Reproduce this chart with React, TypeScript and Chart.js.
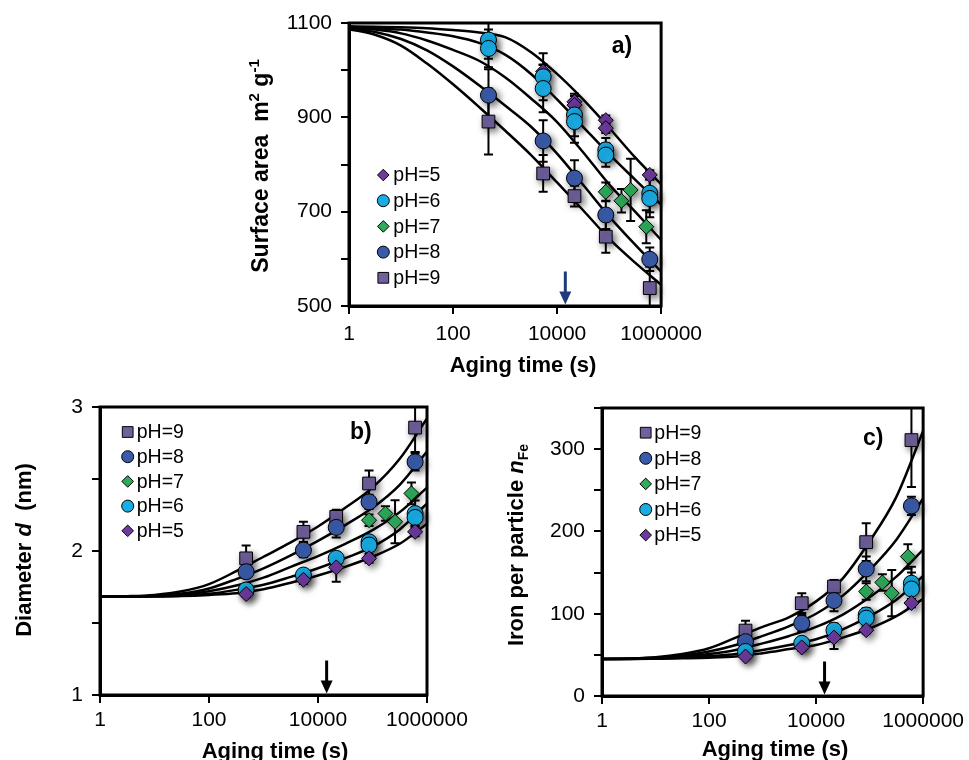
import React, { useEffect, useRef } from "react";
import { Chart, registerables } from "chart.js";
Chart.register(...registerables);

const FONT = "'Liberation Sans', Arial, Helvetica, sans-serif";

// ---------- shared axis values ----------
const curveTimes = [1, 3.162, 10, 31.62, 100, 316.2, 1000, 3162, 10000, 31623, 100000, 316228, 1000000];
const xTickValues = [1, 100, 10000, 1000000];
const arrowTime = 14400;
const mainTimes = [480, 5400, 21600, 86400, 604800];
const ph7Times = [86400, 172800, 259200, 518400];
const dupTimes = [480, 5400, 21600, 86400, 86400, 604800, 604800];

// ---------- panel a: surface area ----------
const aPH5Times = [5400, 21600, 21600, 86400, 86400, 604800];
const aPH5 = [997, 933, 926, 894, 877, 778];
const aPH5Err = [15, 12, 12, 10, 10, 10];
const aPH6Times = [480, 480, 5400, 5400, 21600, 21600, 86400, 86400, 604800, 604800];
const aPH6 = [1064, 1046, 986, 961, 905, 891, 831, 820, 739, 728];
const aPH6Err = [40, 40, 50, 50, 45, 45, 25, 25, 40, 40];
const aPH7 = [742, 723, 746, 668];
const aPH7Err = [20, 25, 66, 35];
const aPH8 = [947, 850, 771, 693, 599];
const aPH8Err = [55, 44, 38, 30, 25];
const aPH9 = [891, 781, 733, 647, 538];
const aPH9Err = [70, 39, 22, 34, 45];
const aFit5 = [1093, 1092, 1091, 1089, 1085, 1080, 1070, 1038, 992, 938, 878, 815, 758];
const aFit6 = [1091, 1089, 1086, 1080, 1072, 1058, 1033, 992, 938, 880, 822, 768, 715];
const aFit7 = [1090, 1086, 1078, 1063, 1043, 1020, 985, 940, 890, 826, 758, 700, 640];
const aFit8 = [1088, 1081, 1066, 1042, 1008, 968, 925, 880, 823, 757, 690, 630, 573];
const aFit9 = [1087, 1075, 1052, 1014, 970, 922, 872, 820, 762, 703, 643, 592, 545];

// ---------- panel b: diameter ----------
const bPH9 = [1.949, 2.133, 2.237, 2.469, 2.857];
const bPH9Err = [0.09, 0.07, 0.05, 0.09, 0.17];
const bPH8 = [1.856, 2.006, 2.164, 2.341, 2.619];
const bPH8Err = [0.04, 0.05, 0.07, 0.05, 0.06];
const bPH7 = [2.214, 2.26, 2.203, 2.4];
const bPH7Err = [0.04, 0.05, 0.15, 0.075];
const bPH6 = [1.729, 1.833, 1.949, 2.064, 2.041, 2.26, 2.233];
const bPH6Err = [0.03, 0.03, 0.04, 0.03, 0.03, 0.09, 0.06];
const bPH5 = [1.701, 1.8, 1.886, 1.949, 2.133];
const bPH5Err = [0.02, 0.03, 0.1, 0.03, 0.03];
const bFit9 = [1.683, 1.686, 1.695, 1.72, 1.77, 1.86, 1.96, 2.06, 2.17, 2.3, 2.44, 2.64, 2.92];
const bFit8 = [1.683, 1.685, 1.69, 1.705, 1.74, 1.805, 1.88, 1.97, 2.07, 2.18, 2.3, 2.46, 2.69];
const bFit7 = [1.683, 1.684, 1.687, 1.697, 1.72, 1.76, 1.815, 1.89, 1.965, 2.05, 2.145, 2.27, 2.44];
const bFit6 = [1.683, 1.683, 1.685, 1.69, 1.703, 1.73, 1.765, 1.82, 1.88, 1.95, 2.03, 2.15, 2.33];
const bFit5 = [1.683, 1.683, 1.684, 1.687, 1.695, 1.707, 1.735, 1.78, 1.83, 1.89, 1.96, 2.05, 2.19];

// ---------- panel c: iron per particle ----------
const cPH9 = [79.5, 112.8, 133, 187, 311];
const cPH9Err = [12, 12, 8, 23, 57];
const cPH8 = [66, 88.4, 116, 154.5, 231];
const cPH8Err = [6, 10, 13, 15, 11];
const cPH7 = [127, 138, 125, 169.5];
const cPH7Err = [10, 10, 28, 15];
const cPH6 = [54, 64, 80, 98.5, 94.5, 137, 130];
const cPH6Err = [4, 4, 8, 8, 8, 20, 20];
const cPH5 = [48, 59, 71, 80, 113];
const cPH5Err = [3, 4, 14, 4, 5];
const cFit9 = [45, 45.5, 47, 51, 58, 71, 84, 96, 115, 143, 188, 242, 322];
const cFit8 = [45, 45.3, 46.5, 49, 54, 62, 73, 85, 100, 122, 153, 190, 240];
const cFit7 = [45, 45.2, 46, 47.5, 51, 56, 64, 73, 84, 99, 120, 145, 178];
const cFit6 = [45, 45.1, 45.5, 46.5, 48.5, 51, 56, 62, 69, 81, 97, 117, 146];
const cFit5 = [45, 45, 45.3, 45.8, 46.5, 48, 52, 57, 62, 71, 82, 97, 118];

// ---------- styles ----------
const C5 = "#6E3A9E";
const C6 = "#1AADE5";
const C7 = "#2EAB5B";
const C8 = "#3A5BAA";
const C9 = "#71609E";
const RAD: Record<string, number> = { circle: 8, rectRot: 7.5, rect: 9 };
const LEG_RAD: Record<string, number> = { circle: 6, rectRot: 5.8, rect: 7.6 };

type Style = "circle" | "rectRot" | "rect";
type Series = { label: string; times: number[]; values: number[]; errors: number[]; style: Style; color: string; order: number };
type Seg = { t: string; size: number; italic?: boolean; dy?: number };

function drawMarker(ctx: CanvasRenderingContext2D, style: Style, x: number, y: number, r: number, color: string) {
  ctx.beginPath();
  if (style === "circle") ctx.arc(x, y, r, 0, Math.PI * 2);
  else if (style === "rectRot") {
    ctx.moveTo(x - r, y); ctx.lineTo(x, y - r); ctx.lineTo(x + r, y); ctx.lineTo(x, y + r); ctx.closePath();
  } else {
    const s = r * Math.SQRT1_2;
    ctx.rect(x - s, y - s, 2 * s, 2 * s);
  }
  ctx.fillStyle = color;
  ctx.fill();
  ctx.lineWidth = 1;
  ctx.strokeStyle = "#000";
  ctx.stroke();
}

function drawRich(ctx: CanvasRenderingContext2D, segs: Seg[], x: number, y: number, rotate: boolean) {
  ctx.save();
  ctx.translate(x, y);
  if (rotate) ctx.rotate(-Math.PI / 2);
  ctx.textBaseline = "alphabetic";
  ctx.textAlign = "left";
  ctx.fillStyle = "#000";
  const fontOf = (s: Seg) => `${s.italic ? "italic " : ""}bold ${s.size}px ${FONT}`;
  let total = 0;
  segs.forEach((s) => { ctx.font = fontOf(s); total += ctx.measureText(s.t).width; });
  let cx = -total / 2;
  segs.forEach((s) => {
    ctx.font = fontOf(s);
    ctx.fillText(s.t, cx, s.dy || 0);
    cx += ctx.measureText(s.t).width;
  });
  ctx.restore();
}

const errorBarPlugin = {
  id: "errorBars",
  beforeDatasetsDraw(chart: any) {
    const { ctx, chartArea, scales } = chart;
    ctx.save();
    ctx.beginPath();
    ctx.rect(chartArea.left, chartArea.top, chartArea.right - chartArea.left, chartArea.bottom - chartArea.top);
    ctx.clip();
    ctx.strokeStyle = "#000";
    ctx.lineWidth = 2;
    chart.data.datasets.forEach((ds: any) => {
      if (!ds.errors) return;
      ds.data.forEach((p: any, i: number) => {
        const e = ds.errors[i];
        if (!e) return;
        const x = scales.x.getPixelForValue(p.x);
        const y1 = scales.y.getPixelForValue(p.y - e);
        const y2 = scales.y.getPixelForValue(p.y + e);
        ctx.beginPath();
        ctx.moveTo(x, y1); ctx.lineTo(x, y2);
        ctx.moveTo(x - 4.5, y1); ctx.lineTo(x + 4.5, y1);
        ctx.moveTo(x - 4.5, y2); ctx.lineTo(x + 4.5, y2);
        ctx.stroke();
      });
    });
    ctx.restore();
  },
};

const shadowPlugin = {
  id: "markerShadow",
  beforeDatasetDraw(chart: any, args: any) {
    if (chart.data.datasets[args.index].isMarker) {
      const ctx = chart.ctx;
      ctx.save();
      ctx.shadowColor = "rgba(0,0,0,0.55)";
      ctx.shadowBlur = 7;
      ctx.shadowOffsetX = 3;
      ctx.shadowOffsetY = 3;
    }
  },
  afterDatasetDraw(chart: any, args: any) {
    if (chart.data.datasets[args.index].isMarker) chart.ctx.restore();
  },
};

type PanelCfg = {
  series: Series[];
  curves: number[][];
  yMin: number; yMax: number; yStep: number;
  yLabel: (v: number) => boolean;
  yWidth: number; xHeight: number; padTop: number; padRight: number;
  xTickPad: number;
  legend: { mx: number; tx: number; y0: number; sp: number; order: Series[] };
  tag: { t: string; x: number; y: number };
  arrowColor: string;
  yTitle: Seg[]; yTitleX: number; yTitleY: number;
  xTitleX: number; xTitleY: number;
};

function makeChart(canvas: HTMLCanvasElement, cfg: PanelCfg) {
  const datasets: any[] = [];
  cfg.series.forEach((s) => {
    datasets.push({
      type: "scatter",
      label: s.label,
      data: s.times.map((t, i) => ({ x: t, y: s.values[i] })),
      errors: s.errors,
      isMarker: true,
      pointStyle: s.style,
      pointRadius: RAD[s.style],
      pointBackgroundColor: s.color,
      pointBorderColor: "#000",
      pointBorderWidth: 1,
      showLine: false,
      order: s.order,
      clip: false,
    });
  });
  cfg.curves.forEach((c, k) => {
    datasets.push({
      type: "line",
      label: "fit" + k,
      data: curveTimes.map((t, i) => ({ x: t, y: c[i] })),
      borderColor: "#000",
      borderWidth: 2.5,
      pointRadius: 0,
      cubicInterpolationMode: "monotone",
      fill: false,
      order: 30,
    });
  });

  const overlay = {
    id: "overlay",
    afterDraw(chart: any) {
      const { ctx, chartArea, scales } = chart;
      ctx.save();
      ctx.strokeStyle = "#000";
      ctx.lineWidth = 3;
      ctx.strokeRect(chartArea.left, chartArea.top, chartArea.right - chartArea.left, chartArea.bottom - chartArea.top);
      // arrow
      const ax = scales.x.getPixelForValue(arrowTime);
      const bot = chartArea.bottom - 1.5;
      ctx.strokeStyle = cfg.arrowColor;
      ctx.fillStyle = cfg.arrowColor;
      ctx.lineWidth = 3;
      ctx.beginPath();
      ctx.moveTo(ax, bot - 33);
      ctx.lineTo(ax, bot - 10);
      ctx.stroke();
      ctx.beginPath();
      ctx.moveTo(ax - 6, bot - 13);
      ctx.lineTo(ax + 6, bot - 13);
      ctx.lineTo(ax, bot);
      ctx.closePath();
      ctx.fill();
      // legend
      const L = cfg.legend;
      L.order.forEach((s, i) => {
        const y = L.y0 + i * L.sp;
        drawMarker(ctx, s.style, L.mx, y, LEG_RAD[s.style], s.color);
        ctx.fillStyle = "#000";
        ctx.font = `19.5px ${FONT}`;
        ctx.textBaseline = "middle";
        ctx.textAlign = "left";
        ctx.fillText(s.label, L.tx, y + 1);
      });
      // tag
      ctx.font = `bold 23px ${FONT}`;
      ctx.fillStyle = "#000";
      ctx.textBaseline = "middle";
      ctx.fillText(cfg.tag.t, cfg.tag.x, cfg.tag.y);
      ctx.restore();
      drawRich(ctx, cfg.yTitle, cfg.yTitleX, cfg.yTitleY, true);
      drawRich(ctx, [{ t: "Aging time (s)", size: 22 }], cfg.xTitleX, cfg.xTitleY, false);
    },
  };

  return new Chart(canvas, {
    type: "scatter",
    data: { datasets },
    options: {
      responsive: false,
      animation: false,
      events: [],
      layout: { padding: { top: cfg.padTop, right: cfg.padRight, left: 0, bottom: 0 } },
      plugins: { legend: { display: false }, tooltip: { enabled: false }, title: { display: false } },
      scales: {
        x: {
          type: "logarithmic",
          min: 1,
          max: 1000000,
          afterBuildTicks: (s: any) => { s.ticks = xTickValues.map((v) => ({ value: v })); },
          afterFit: (s: any) => { s.height = cfg.xHeight; },
          ticks: {
            callback: (v: any) => String(v),
            font: { family: FONT, size: 21 },
            color: "#000",
            padding: cfg.xTickPad,
            maxRotation: 0,
            autoSkip: false,
          },
          grid: { display: true, drawOnChartArea: false, drawTicks: true, tickLength: 8, color: "#000", lineWidth: 2 },
          border: { display: true, color: "#000", width: 3 },
        },
        y: {
          type: "linear",
          min: cfg.yMin,
          max: cfg.yMax,
          afterFit: (s: any) => { s.width = cfg.yWidth; },
          ticks: {
            stepSize: cfg.yStep,
            callback: (v: any) => (cfg.yLabel(Number(v)) ? String(v) : ""),
            font: { family: FONT, size: 21 },
            color: "#000",
            padding: 9,
            autoSkip: false,
          },
          grid: { display: true, drawOnChartArea: false, drawTicks: true, tickLength: 8, color: "#000", lineWidth: 2 },
          border: { display: true, color: "#000", width: 3 },
        },
      },
    } as any,
    plugins: [errorBarPlugin, shadowPlugin, overlay],
  } as any);
}

export default function App() {
  const refA = useRef<HTMLCanvasElement>(null);
  const refB = useRef<HTMLCanvasElement>(null);
  const refC = useRef<HTMLCanvasElement>(null);

  useEffect(() => {
    // panel a: pH9 on top
    const a5: Series = { label: "pH=5", times: aPH5Times, values: aPH5, errors: aPH5Err, style: "rectRot", color: C5, order: 15 };
    const a6: Series = { label: "pH=6", times: aPH6Times, values: aPH6, errors: aPH6Err, style: "circle", color: C6, order: 14 };
    const a7: Series = { label: "pH=7", times: ph7Times, values: aPH7, errors: aPH7Err, style: "rectRot", color: C7, order: 13 };
    const a8: Series = { label: "pH=8", times: mainTimes, values: aPH8, errors: aPH8Err, style: "circle", color: C8, order: 12 };
    const a9: Series = { label: "pH=9", times: mainTimes, values: aPH9, errors: aPH9Err, style: "rect", color: C9, order: 11 };
    const chartA = makeChart(refA.current!, {
      series: [a5, a6, a7, a8, a9],
      curves: [aFit5, aFit6, aFit7, aFit8, aFit9],
      yMin: 500, yMax: 1100, yStep: 100,
      yLabel: (v) => (v - 500) % 200 === 0,
      yWidth: 119, xHeight: 79, padTop: 23, padRight: 48, xTickPad: 8,
      legend: { mx: 153.3, tx: 163.3, y0: 175, sp: 25.7, order: [a5, a6, a7, a8, a9] },
      tag: { t: "a)", x: 381.7, y: 46.7 },
      arrowColor: "#1F3A78",
      yTitle: [
        { t: "Surface area  m", size: 23 },
        { t: "2", size: 15, dy: -9 },
        { t: " g", size: 23 },
        { t: "-1", size: 15, dy: -9 },
      ],
      yTitleX: 38, yTitleY: 166,
      xTitleX: 293, xTitleY: 372,
    });

    // panel b: pH5 on top
    const b9: Series = { label: "pH=9", times: mainTimes, values: bPH9, errors: bPH9Err, style: "rect", color: C9, order: 15 };
    const b8: Series = { label: "pH=8", times: mainTimes, values: bPH8, errors: bPH8Err, style: "circle", color: C8, order: 14 };
    const b7: Series = { label: "pH=7", times: ph7Times, values: bPH7, errors: bPH7Err, style: "rectRot", color: C7, order: 13 };
    const b6: Series = { label: "pH=6", times: dupTimes, values: bPH6, errors: bPH6Err, style: "circle", color: C6, order: 12 };
    const b5: Series = { label: "pH=5", times: mainTimes, values: bPH5, errors: bPH5Err, style: "rectRot", color: C5, order: 11 };
    const chartB = makeChart(refB.current!, {
      series: [b9, b8, b7, b6, b5],
      curves: [bFit9, bFit8, bFit7, bFit6, bFit5],
      yMin: 1, yMax: 3, yStep: 0.5,
      yLabel: (v) => Number.isInteger(v),
      yWidth: 100, xHeight: 65, padTop: 27, padRight: 53, xTickPad: 5,
      legend: { mx: 127.7, tx: 136.7, y0: 52, sp: 24.7, order: [b9, b8, b7, b6, b5] },
      tag: { t: "b)", x: 350, y: 53 },
      arrowColor: "#000",
      yTitle: [
        { t: "Diameter ", size: 22 },
        { t: "d", size: 22, italic: true },
        { t: "  (nm)", size: 22 },
      ],
      yTitleX: 31, yTitleY: 170,
      xTitleX: 275, xTitleY: 377.5,
    });

    // panel c: pH5 on top
    const c9: Series = { label: "pH=9", times: mainTimes, values: cPH9, errors: cPH9Err, style: "rect", color: C9, order: 15 };
    const c8: Series = { label: "pH=8", times: mainTimes, values: cPH8, errors: cPH8Err, style: "circle", color: C8, order: 14 };
    const c7: Series = { label: "pH=7", times: ph7Times, values: cPH7, errors: cPH7Err, style: "rectRot", color: C7, order: 13 };
    const c6: Series = { label: "pH=6", times: dupTimes, values: cPH6, errors: cPH6Err, style: "circle", color: C6, order: 12 };
    const c5: Series = { label: "pH=5", times: mainTimes, values: cPH5, errors: cPH5Err, style: "rectRot", color: C5, order: 11 };
    const chartC = makeChart(refC.current!, {
      series: [c9, c8, c7, c6, c5],
      curves: [cFit9, cFit8, cFit7, cFit6, cFit5],
      yMin: 0, yMax: 350, yStep: 50,
      yLabel: (v) => v % 100 === 0,
      yWidth: 122, xHeight: 64, padTop: 28, padRight: 44, xTickPad: 5,
      legend: { mx: 165.7, tx: 174.3, y0: 52.7, sp: 25.6, order: [c9, c8, c7, c6, c5] },
      tag: { t: "c)", x: 383, y: 59 },
      arrowColor: "#000",
      yTitle: [
        { t: "Iron per particle ", size: 22 },
        { t: "n", size: 22, italic: true },
        { t: "Fe", size: 14, dy: 5 },
      ],
      yTitleX: 43, yTitleY: 165,
      xTitleX: 295, xTitleY: 376,
    });

    return () => {
      chartA.destroy();
      chartB.destroy();
      chartC.destroy();
    };
  }, []);

  return (
    <div style={{ position: "absolute", left: 0, top: 0, width: 969, height: 760, background: "#fff", overflow: "hidden" }}>
      <canvas ref={refA} width={480} height={385} style={{ position: "absolute", left: 230, top: 0, width: 480, height: 385 }} />
      <canvas ref={refB} width={480} height={380} style={{ position: "absolute", left: 0, top: 380, width: 480, height: 380 }} />
      <canvas ref={refC} width={489} height={380} style={{ position: "absolute", left: 480, top: 380, width: 489, height: 380 }} />
    </div>
  );
}
